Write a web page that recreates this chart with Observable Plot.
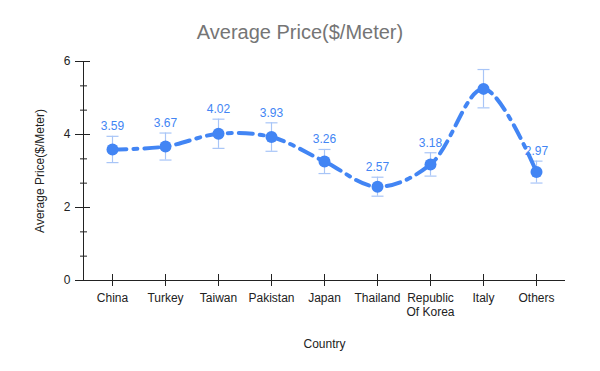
<!DOCTYPE html>
<html><head><meta charset="utf-8">
<script src="https://cdn.jsdelivr.net/npm/d3@7"></script>
<script src="https://cdn.jsdelivr.net/npm/@observablehq/plot@0.6"></script>
<style>
body{margin:0;background:#fff;font-family:"Liberation Sans",Arial,sans-serif;}
#title{height:28px;padding-top:22px;line-height:20px;font-size:20px;color:#757575;text-align:center;width:600px;}
</style></head>
<body>
<div id="title">Average Price($/Meter)</div>
<div id="chart"></div>
<script>
const countries = ["China","Turkey","Taiwan","Pakistan","Japan","Thailand","Republic Of Korea","Italy","Others"];
const xTickLabels = ["China","Turkey","Taiwan","Pakistan","Japan","Thailand","Republic\nOf Korea","Italy","Others"];
const prices = [3.59,3.67,4.02,3.93,3.26,2.57,3.18,5.25,2.97];
const errLow = [3.23,3.30,3.62,3.54,2.93,2.31,2.86,4.73,2.67];
const errHigh = [3.95,4.04,4.42,4.32,3.59,2.83,3.50,5.78,3.27];
const pointLabels = ["3.59","3.67","4.02","3.93","3.26","2.57","3.18","","2.97"];
const yMajorTicks = [0,2,4,6];
const yMinorTicks = [0.667,1.333,2.667,3.333,4.667,5.333];

const data = countries.map((c,i)=>({country:c, price:prices[i], lo:errLow[i], hi:errHigh[i], label:pointLabels[i]}));
const blue = "#4285F4", errColor = "#a8c5f7", axisColor = "#222";
const tickFmt = d => xTickLabels[countries.indexOf(d)];
const capSymbol = {draw(ctx, size){ const w = Math.sqrt(size / Math.PI); ctx.moveTo(-w, 0); ctx.lineTo(w, 0); }};

const chart = Plot.plot({
  width: 600, height: 321,
  marginTop: 11, marginBottom: 91, marginLeft: 83, marginRight: 35,
  style: {fontFamily: '"Liberation Sans", Arial, sans-serif', fontSize: "12px", color: axisColor, background: "#fff"},
  x: {type: "point", domain: countries, padding: 0.5},
  y: {domain: [0, 6]},
  marks: [
    Plot.axisY({ticks: yMajorTicks, tickSize: 8, tickPadding: 5, tickFormat: d3.format("d"), fontSize: 12, stroke: axisColor,
      label: "Average Price($/Meter)", labelArrow: "none", labelAnchor: "center", labelOffset: 48}),
    Plot.axisY({ticks: yMajorTicks, tickSize: -7, tickFormat: () => "", label: null, stroke: axisColor}),
    Plot.axisY({ticks: yMinorTicks, tickSize: 3, tickFormat: () => "", label: null, stroke: axisColor}),
    Plot.axisY({ticks: yMinorTicks, tickSize: -4, tickFormat: () => "", label: null, stroke: axisColor}),
    Plot.axisX({tickSize: 6, tickPadding: 6, tickFormat: tickFmt, fontSize: 12, stroke: axisColor,
      label: "Country", labelArrow: "none", labelAnchor: "center", labelOffset: 67, lineHeight: 1.15}),
    Plot.axisX({tickSize: -6, tickFormat: () => "", label: null, stroke: axisColor}),
    Plot.frame({anchor: "left", stroke: axisColor}),
    Plot.ruleY([0], {stroke: axisColor}),
    Plot.ruleX(data, {x: "country", y1: "lo", y2: "hi", stroke: errColor, strokeWidth: 1.2}),
    Plot.dot(data, {x: "country", y: "lo", r: 6, symbol: capSymbol, stroke: errColor, fill: "none", strokeWidth: 1.2}),
    Plot.dot(data, {x: "country", y: "hi", r: 6, symbol: capSymbol, stroke: errColor, fill: "none", strokeWidth: 1.2}),
    Plot.line(data, {x: "country", y: "price", curve: "catmull-rom", stroke: blue, strokeWidth: 4, strokeDasharray: "14,7,4,7"}),
    Plot.dot(data, {x: "country", y: "price", r: 6, fill: blue}),
    Plot.text(data.filter(d => d.label), {x: "country", y: "hi", text: "label", dy: -6, lineAnchor: "bottom", fill: blue, fontSize: 12})
  ]
});
document.getElementById("chart").appendChild(chart);
</script>
</body></html>
